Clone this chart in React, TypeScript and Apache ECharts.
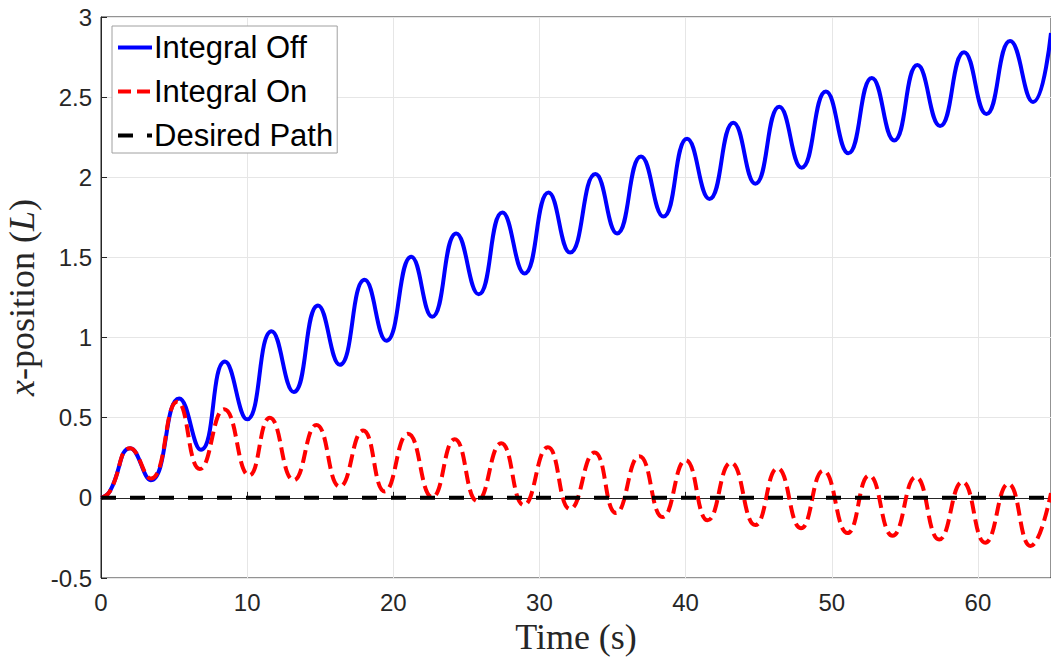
import React, { useEffect, useRef } from "react";
import * as echarts from "echarts";

const offT = [0, 0.6, 2.0, 3.4, 5.35, 6.84, 8.48, 10.0, 11.67, 13.19, 14.85, 16.34, 18.04, 19.53, 21.23, 22.66, 24.31, 25.84, 27.46, 28.98, 30.62, 32.1, 33.83, 35.31, 36.95, 38.48, 40.1, 41.63, 43.27, 44.77, 46.41, 47.94, 49.6, 51.13, 52.74, 54.27, 55.86, 57.41, 59.05, 60.58, 62.2, 63.77, 65];
const offY = [0, 0.04, 0.31, 0.11, 0.62, 0.3, 0.85, 0.49, 1.04, 0.66, 1.2, 0.83, 1.36, 0.98, 1.505, 1.13, 1.65, 1.27, 1.78, 1.4, 1.905, 1.53, 2.02, 1.65, 2.13, 1.755, 2.24, 1.865, 2.34, 1.96, 2.44, 2.06, 2.535, 2.15, 2.62, 2.23, 2.7, 2.32, 2.78, 2.395, 2.85, 2.47, 2.9];

const onT = [0, 0.6, 2.0, 3.4, 5.22, 6.77, 8.43, 10.14, 11.55, 13.19, 14.74, 16.34, 17.93, 19.41, 21.0, 22.67, 24.2, 25.75, 27.38, 28.93, 30.57, 32.1, 33.77, 35.24, 36.84, 38.43, 40.0, 41.51, 43.1, 44.77, 46.29, 47.89, 49.42, 51.08, 52.56, 54.16, 55.75, 57.35, 58.94, 60.5, 62.08, 63.6, 65];
const onY = [0, 0.04, 0.31, 0.12, 0.6, 0.18, 0.553, 0.14, 0.5, 0.11, 0.455, 0.07, 0.42, 0.04, 0.4, 0.004, 0.366, -0.02, 0.34, -0.045, 0.315, -0.07, 0.283, -0.095, 0.26, -0.12, 0.235, -0.14, 0.22, -0.17, 0.185, -0.19, 0.17, -0.22, 0.14, -0.237, 0.13, -0.26, 0.1, -0.28, 0.087, -0.3, 0.03];

const desiredT = [0, 65];
const desiredY = [0, 0];

const seriesNames = ["Integral Off", "Integral On", "Desired Path"];

const pairs = (t: number[], y: number[]) => t.map((v, i) => [v, y[i]]);

export default function App() {
  const ref = useRef<HTMLDivElement>(null);
  useEffect(() => {
    const chart = echarts.init(ref.current!, null, { renderer: "svg" });
    const sans = "Liberation Sans, Arial, sans-serif";
    const serif = "Liberation Serif, Times New Roman, serif";
    const axisText = { color: "#262626", fontFamily: sans, fontSize: 24 };
    chart.setOption({
      animation: false,
      backgroundColor: "#ffffff",
      grid: {
        left: 101,
        right: 0,
        top: 17,
        bottom: 88,
        show: true,
        borderColor: "#262626",
        borderWidth: 1,
        containLabel: false,
        outerBoundsMode: "none",
      },
      legend: {
        orient: "vertical",
        left: 112,
        top: 26,
        data: seriesNames,
        backgroundColor: "#ffffff",
        borderColor: "#a0a0a0",
        borderWidth: 1,
        borderRadius: 0,
        padding: [6, 4, 2, 4],
        itemWidth: 34,
        itemHeight: 20,
        itemGap: 13,
        itemStyle: { opacity: 0 },
        lineStyle: { width: 4 },
        textStyle: { color: "#000", fontFamily: sans, fontSize: 31, lineHeight: 30, padding: [0, 0, 0, -3] },
      },
      xAxis: {
        type: "value",
        min: 0,
        max: 65,
        interval: 10,
        name: "Time (s)",
        nameLocation: "middle",
        nameGap: 41,
        nameTextStyle: { color: "#262626", fontFamily: serif, fontSize: 36 },
        axisLine: { lineStyle: { color: "#262626", width: 1 } },
        axisTick: { inside: true, length: 6, lineStyle: { color: "#262626" } },
        axisLabel: { ...axisText, margin: 12, showMaxLabel: false },
        splitLine: { show: true, lineStyle: { color: "#e6e6e6", width: 1 } },
      },
      yAxis: {
        type: "value",
        min: -0.5,
        max: 3,
        interval: 0.5,
        name: "{i|x}-position ({i|L})",
        nameLocation: "middle",
        nameGap: 40,
        nameTextStyle: {
          color: "#262626",
          fontFamily: serif,
          fontSize: 36,
          rich: {
            i: { fontStyle: "italic", fontFamily: serif, fontSize: 36, color: "#262626" },
          },
        },
        axisLine: { show: true, lineStyle: { color: "#262626", width: 1 } },
        axisTick: { show: true, inside: true, length: 6, lineStyle: { color: "#262626" } },
        axisLabel: { ...axisText, margin: 9 },
        splitLine: { show: true, lineStyle: { color: "#e6e6e6", width: 1 } },
      },
      series: [
        {
          name: seriesNames[0],
          type: "line",
          data: pairs(offT, offY),
          smooth: 0.5,
          symbol: "none",
          lineStyle: { color: "#0000ff", width: 4 },
          itemStyle: { color: "#0000ff" },
        },
        {
          name: seriesNames[1],
          type: "line",
          data: pairs(onT, onY),
          smooth: 0.5,
          symbol: "none",
          lineStyle: { color: "#ff0000", width: 4, type: [13, 6] },
          itemStyle: { color: "#ff0000" },
        },
        {
          name: seriesNames[2],
          type: "line",
          data: pairs(desiredT, desiredY),
          symbol: "none",
          lineStyle: { color: "#000000", width: 4, type: [15, 14] },
          itemStyle: { color: "#000000" },
        },
      ],
    });
    return () => chart.dispose();
  }, []);
  return <div ref={ref} style={{ position: "fixed", left: 0, top: 0, width: 1051, height: 666 }} />;
}
